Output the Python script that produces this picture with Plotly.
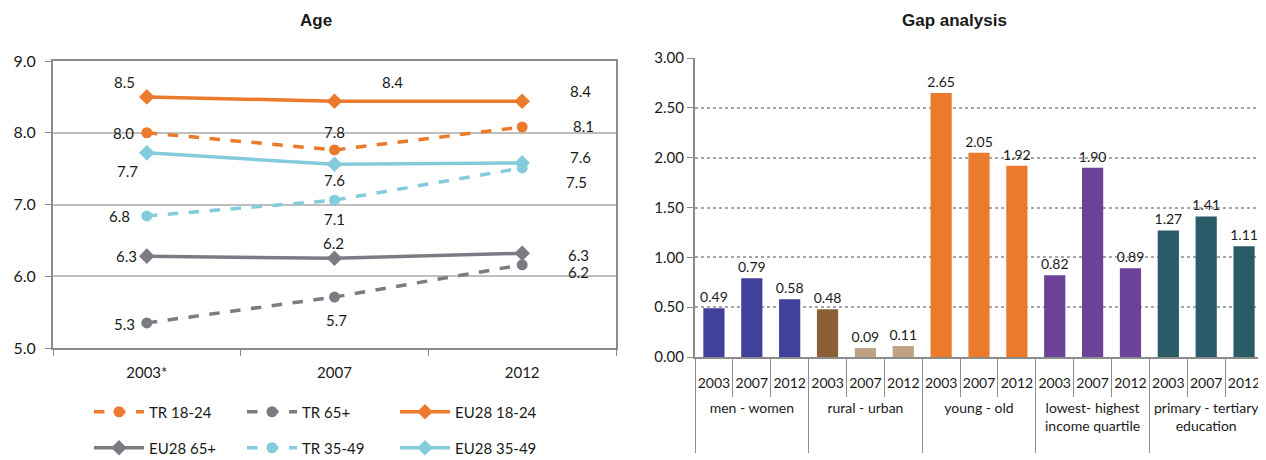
import plotly.graph_objects as go

# ---- data: left chart (Age) ----
years_age = ['2003*', '2007', '2012']
tr_18_24 = [8.00, 7.76, 8.08]
tr_65 = [5.35, 5.71, 6.16]
eu_18_24 = [8.50, 8.44, 8.44]
eu_65 = [6.28, 6.25, 6.32]
tr_35_49 = [6.84, 7.06, 7.51]
eu_35_49 = [7.72, 7.56, 7.58]
labels_tr_18_24 = ['8.0', '7.8', '8.1']
labels_tr_65 = ['5.3', '5.7', '6.2']
labels_eu_18_24 = ['8.5', '8.4', '8.4']
labels_eu_65 = ['6.3', '6.2', '6.3']
labels_tr_35_49 = ['6.8', '7.1', '7.5']
labels_eu_35_49 = ['7.7', '7.6', '7.6']

# ---- data: right chart (Gap analysis) ----
gap_groups = ['men - women', 'rural - urban', 'young - old',
              'lowest- highest<br>income quartile', 'primary - tertiary<br>education']
gap_years = ['2003', '2007', '2012']
gap_values = [0.49, 0.79, 0.58,
              0.48, 0.09, 0.11,
              2.65, 2.05, 1.92,
              0.82, 1.90, 0.89,
              1.27, 1.41, 1.11]

ORANGE = '#EC7A2C'
GRAY = '#7B7B83'
LBLUE = '#84CCDC'
FONT = 'Lato'

# page body has an 8px margin, so the figure is 1258x452 drawn at (8, 8)
W, H, OFF = 1258, 452, 8


def px(x):
    return (x - OFF) / W


def py(y):
    return 1 - (y - OFF) / H


fig = go.Figure()

# name, values, labels, colour, dash, marker, legend, label offsets (dx, dy)
series = [
    ('TR 18-24', tr_18_24, labels_tr_18_24, ORANGE, 'dash', 'circle', 'legend',
     [(-23, 0), (0, 18), (61, 1)]),
    ('TR 65+', tr_65, labels_tr_65, GRAY, 'dash', 'circle', 'legend',
     [(-22, -1), (2, -23), (56, -7)]),
    ('EU28 18-24', eu_18_24, labels_eu_18_24, ORANGE, 'solid', 'diamond', 'legend',
     [(-22, 15), (58, 19), (58, 10)]),
    ('EU28 65+', eu_65, labels_eu_65, GRAY, 'solid', 'diamond', 'legend2',
     [(-20, 0), (-1, 15), (56, -2)]),
    ('TR 35-49', tr_35_49, labels_tr_35_49, LBLUE, 'dash', 'circle', 'legend2',
     [(-27, 0), (0, -19), (54, -14)]),
    ('EU28 35-49', eu_35_49, labels_eu_35_49, LBLUE, 'solid', 'diamond', 'legend2',
     [(-19, -18), (0, -16), (58, 6)]),
]

for name, vals, labs, color, dash, symbol, leg, offs in series:
    fig.add_trace(go.Scatter(
        x=years_age, y=vals, name=name, mode='lines+markers',
        line=dict(color=color, width=3.5, dash=dash),
        marker=dict(symbol=symbol, size=12 if symbol == 'diamond' else 11, color=color),
        legend=leg, xaxis='x', yaxis='y'))
    for i, (yv, lab, (dx, dy)) in enumerate(zip(vals, labs, offs)):
        fig.add_annotation(x=i, y=yv, text=lab, xref='x', yref='y',
                           showarrow=False, xshift=dx, yshift=dy,
                           font=dict(family=FONT, size=15, color='#1a1a1a'))

bar_colors = ['#41419B', '#41419B', '#41419B',
              '#8D5F37', '#BFA184', '#BFA184',
              ORANGE, ORANGE, ORANGE,
              '#6C4298', '#6C4298', '#6C4298',
              '#2A5B69', '#2A5B69', '#2A5B69']

# leading <br> pushes the group row below the year row,
# trailing blank line stretches the dividers to the bottom edge
gx_outer = ['<br>' + g + '<br>&nbsp;' for g in gap_groups for _ in gap_years]
gx_inner = [y for _ in gap_groups for y in gap_years]

fig.add_trace(go.Bar(
    x=[gx_outer, gx_inner], y=gap_values,
    marker=dict(color=bar_colors, line=dict(width=0)),
    texttemplate='%{y:.2f}', textposition='outside', cliponaxis=False,
    constraintext='none',
    textfont=dict(family=FONT, size=14, color='#1a1a1a'),
    showlegend=False, xaxis='x2', yaxis='y2'))

fig.update_layout(
    width=W, height=H,
    margin=dict(l=0, r=0, t=0, b=0, autoexpand=False),
    paper_bgcolor='white', plot_bgcolor='white',
    font=dict(family=FONT, size=15, color='#1a1a1a'),
    bargap=0.44,
    xaxis=dict(domain=[px(53), px(616)], type='category', range=[-0.5, 2.5],
               showline=True, linecolor='#8C8C8C', linewidth=2, mirror=True,
               ticks='outside', tickson='boundaries', ticklen=6, tickcolor='#8C8C8C',
               ticklabelstandoff=10,
               showgrid=False, tickfont=dict(size=15), automargin=False),
    yaxis=dict(domain=[py(348), py(61)], range=[5, 9], dtick=1,
               tickformat='.1f', showline=True, linecolor='#8C8C8C', linewidth=2,
               mirror=True, gridcolor='#BFBFBF', gridwidth=2,
               ticks='outside', ticklen=6, tickcolor='#8C8C8C', ticklabelstandoff=6,
               tickfont=dict(size=16), zeroline=False, automargin=False),
    xaxis2=dict(domain=[px(695), px(1263)], type='multicategory',
                showline=True, linecolor='#8C8C8C', linewidth=2,
                ticks='outside', ticklen=38, tickcolor='#8C8C8C', tickangle=0,
                ticklabelstandoff=12,
                showdividers=True, dividercolor='#8C8C8C', dividerwidth=1,
                tickfont=dict(size=14), anchor='y2', automargin=False),
    yaxis2=dict(domain=[py(357), py(58)], range=[0, 3], dtick=0.5,
                tickformat='.2f', showline=True, linecolor='#8C8C8C', linewidth=2,
                gridcolor='#A6A6A6', gridwidth=1.5, griddash='dot',
                ticks='outside', ticklen=6, tickcolor='#8C8C8C',
                tickfont=dict(size=15), zeroline=False, anchor='x2', automargin=False),
    legend=dict(orientation='h', x=px(89), y=py(412), yanchor='middle',
                xanchor='left', entrywidth=88, itemwidth=50,
                font=dict(size=15), tracegroupgap=0, bgcolor='rgba(0,0,0,0)'),
    legend2=dict(orientation='h', x=px(89), y=py(448), yanchor='middle',
                 xanchor='left', entrywidth=88, itemwidth=50,
                 font=dict(size=15), tracegroupgap=0, bgcolor='rgba(0,0,0,0)'),
)

for title, xc in (('<b>Age</b>', 316), ('<b>Gap analysis</b>', 954)):
    fig.add_annotation(text=title, x=px(xc), y=py(20), xref='paper', yref='paper',
                       xanchor='center', yanchor='middle', showarrow=False,
                       font=dict(family='Liberation Sans', size=17, color='#1a1a1a'))

fig.write_html('out.html')
